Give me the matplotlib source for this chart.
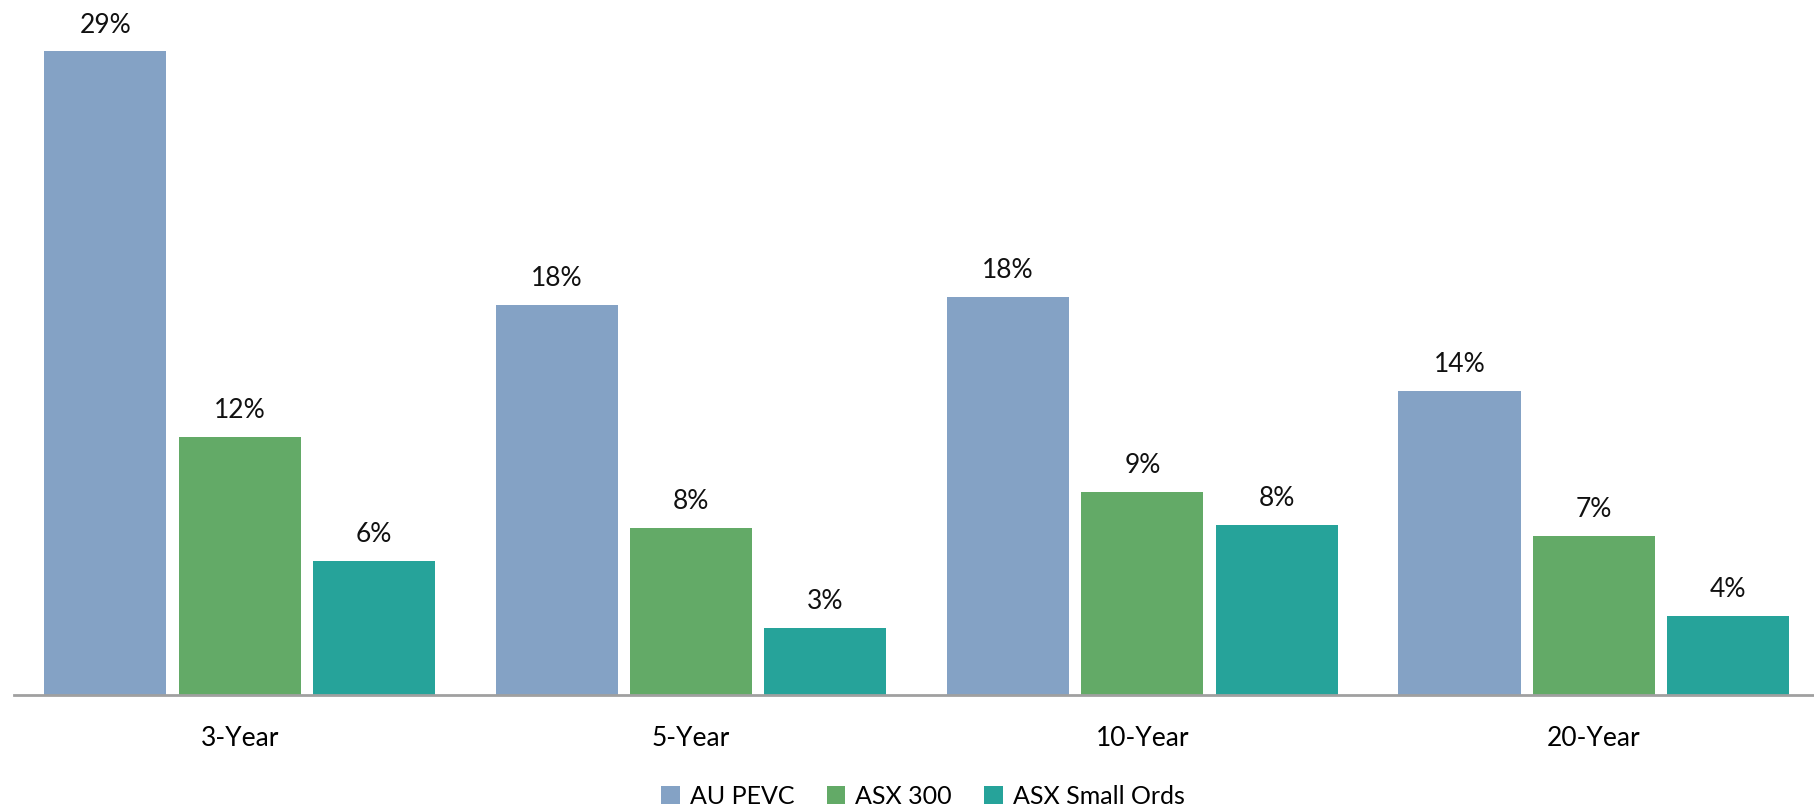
import numpy as np
import matplotlib.pyplot as plt

plt.rcParams['font.family'] = ['Lato', 'DejaVu Sans']

periods = ['3-Year', '5-Year', '10-Year', '20-Year']
au_pevc = [29.2, 17.7, 18.05, 13.8]
asx_300 = [11.7, 7.6, 9.2, 7.2]
asx_small = [6.1, 3.05, 7.7, 3.6]

series = [('AU PEVC', au_pevc, '#84a2c5'),
          ('ASX 300', asx_300, '#63aa67'),
          ('ASX Small Ords', asx_small, '#26a39a')]

fig = plt.figure(figsize=(18.15, 8.08), dpi=100)
ax = fig.add_axes([14/1815, 113/808, 1 - 14/1815, 1 - 113/808 - 0.001])

x = np.arange(len(periods))
width = 0.2705
step = 0.2975

for i, (name, vals, col) in enumerate(series):
    bars = ax.bar(x + (i - 1)*step, vals, width, color=col, label=name)
    ax.bar_label(bars, labels=['%d%%' % round(v) for v in vals],
                 padding=10, fontsize=19, color='#111111')

ax.set_xlim(-0.5, 3.49)
ax.set_ylim(0, 31.5)
ax.set_xticks(x)
ax.set_xticklabels(periods, fontsize=19)
ax.tick_params(axis='x', length=0, pad=22)
ax.set_yticks([])
for s in ['top', 'right', 'left']:
    ax.spines[s].set_visible(False)
ax.spines['bottom'].set_color('#a0a0a0')
ax.spines['bottom'].set_linewidth(2)

fig.legend(loc='center', bbox_to_anchor=(923/1815, 1 - 796/808), ncol=3,
           frameon=False, fontsize=18, handlelength=0.75, handleheight=0.75,
           handletextpad=0.4, columnspacing=1.3)

fig.savefig('out.png', dpi=100)
